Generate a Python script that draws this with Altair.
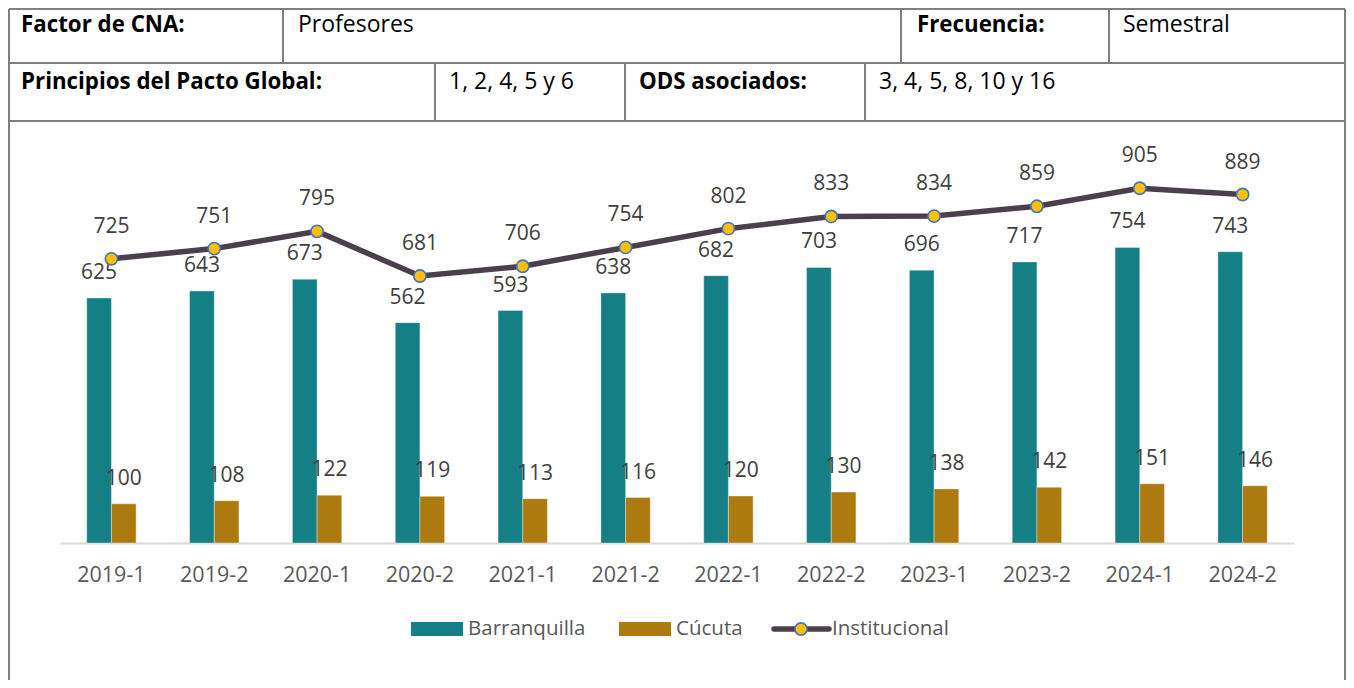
import altair as alt
import pandas as pd

# ---------------- data ----------------
periods = ["2019-1", "2019-2", "2020-1", "2020-2", "2021-1", "2021-2",
           "2022-1", "2022-2", "2023-1", "2023-2", "2024-1", "2024-2"]
barranquilla = [625, 643, 673, 562, 593, 638, 682, 703, 696, 717, 754, 743]
cucuta = [100, 108, 122, 119, 113, 116, 120, 130, 138, 142, 151, 146]
institucional = [725, 751, 795, 681, 706, 754, 802, 833, 834, 859, 905, 889]
series = ["Barranquilla", "Cúcuta"]

row1_labels = ["Factor de CNA:", "Profesores", "Frecuencia:", "Semestral"]
row2_labels = ["Principios del Pacto Global:", "1, 2, 4, 5 y 6", "ODS asociados:", "3, 4, 5, 8, 10 y 16"]
legend_labels = ["Barranquilla", "Cúcuta", "Institucional"]

# ---------------- styles / layout ----------------
FONT = "Open Sans"
C_BAQ = "#157F86"
C_CUC = "#AD7A10"
C_LINE = "#4B3F4E"
C_PT = "#FFC000"
C_PT_STROKE = "#4472C4"
C_BORDER = "#7F7F7F"

W, H = 1234, 392
PAD = {"left": 52, "top": 143, "right": 52, "bottom": 137}
PX0, PY0 = 8 + PAD["left"], 8 + PAD["top"]   # page position of plot origin


def px(v):
    return v - PX0


def py(v):
    return v - PY0


bars_df = pd.DataFrame({
    "Periodo": periods * 2,
    "Sede": [series[0]] * len(periods) + [series[1]] * len(periods),
    "Valor": barranquilla + cucuta,
})
line_df = pd.DataFrame({"Periodo": periods, "Valor": institucional})

x_enc = alt.X("Periodo:N", sort=periods, title=None,
              scale=alt.Scale(paddingInner=0.52, paddingOuter=0.26),
              axis=alt.Axis(labelAngle=0, ticks=False, tickSize=0, labelPadding=21,
                            labelFontSize=21.5, labelFont=FONT, labelColor="#595959",
                            domainColor="#D9D9D9", domainWidth=2, grid=False))
y_enc = alt.Y("Valor:Q", scale=alt.Scale(domain=[0, 1000]), axis=None)
xoff = alt.XOffset("Sede:N", sort=series, scale=alt.Scale(paddingInner=0, paddingOuter=0))
color = alt.Color("Sede:N", scale=alt.Scale(domain=series, range=[C_BAQ, C_CUC]), legend=None)

bars = alt.Chart(bars_df).mark_bar(stroke="#FFFFFF", strokeWidth=0.6, strokeOpacity=0.6).encode(
    x=x_enc, xOffset=xoff, y=y_enc, color=color)
bar_labels = alt.Chart(bars_df).mark_text(dy=-25, fontSize=21, font=FONT, color="#404040",
                                          baseline="middle").encode(
    x=alt.X("Periodo:N", sort=periods), xOffset=xoff, y="Valor:Q", text="Valor:Q")
line = alt.Chart(line_df).mark_line(color=C_LINE, strokeWidth=5.5).encode(
    x=alt.X("Periodo:N", sort=periods), y="Valor:Q")
points = alt.Chart(line_df).mark_point(filled=True, fill=C_PT, stroke=C_PT_STROKE, strokeWidth=1.6,
                                       size=150, opacity=1, shape="circle").encode(
    x=alt.X("Periodo:N", sort=periods), y="Valor:Q")
line_labels = alt.Chart(line_df).mark_text(dy=-32, fontSize=21, font=FONT, color="#404040",
                                           baseline="middle").encode(
    x=alt.X("Periodo:N", sort=periods), y="Valor:Q", text="Valor:Q")

main = alt.layer(bars, bar_labels, line, points, line_labels)

# ---------------- table frame ----------------
L, R, T, BOT = 9, 1345, 9, 680
ROW1, ROW2 = 63, 121
rules = [
    (L, R, T, T), (L, R, ROW1, ROW1), (L, R, ROW2, ROW2),
    (L, L, T, BOT), (R, R, T, BOT),
    (283, 283, T, ROW1), (901, 901, T, ROW1), (1109, 1109, T, ROW1),
    (435, 435, ROW1, ROW2), (625, 625, ROW1, ROW2), (865, 865, ROW1, ROW2),
]
rules_df = pd.DataFrame([{"x": px(a), "x2": px(b), "y": py(c), "y2": py(d)} for a, b, c, d in rules])
frame = alt.Chart(rules_df).mark_rule(color=C_BORDER, strokeWidth=2).encode(
    x=alt.X("x:Q", scale=None), x2="x2:Q", y=alt.Y("y:Q", scale=None), y2="y2:Q")

cell_x1 = [21, 298, 917, 1123]
cell_x2 = [21, 449, 639, 879]
bold_flags = [True, False, True, False]
cells = []
for lab, xx, b in zip(row1_labels, cell_x1, bold_flags):
    cells.append({"t": lab, "x": px(xx), "y": py(32), "b": b})
for lab, xx, b in zip(row2_labels, cell_x2, bold_flags):
    cells.append({"t": lab, "x": px(xx), "y": py(89), "b": b})
cells_df = pd.DataFrame(cells)
cell_bold = alt.Chart(cells_df[cells_df.b]).mark_text(
    align="left", baseline="alphabetic", fontSize=22.3, font=FONT, fontWeight="bold", color="#000000").encode(
    x=alt.X("x:Q", scale=None), y=alt.Y("y:Q", scale=None), text="t:N")
cell_norm = alt.Chart(cells_df[~cells_df.b]).mark_text(
    align="left", baseline="alphabetic", fontSize=23, font=FONT, color="#000000").encode(
    x=alt.X("x:Q", scale=None), y=alt.Y("y:Q", scale=None), text="t:N")

# ---------------- legend ----------------
LEG_Y = 629
sw_df = pd.DataFrame({"x": [px(411), px(619)], "x2": [px(463), px(671)],
                      "y": [py(LEG_Y - 7), py(LEG_Y - 7)], "y2": [py(LEG_Y + 7), py(LEG_Y + 7)],
                      "c": [C_BAQ, C_CUC]})
swatches = alt.Chart(sw_df).mark_rect().encode(
    x=alt.X("x:Q", scale=None), x2="x2:Q", y=alt.Y("y:Q", scale=None), y2="y2:Q",
    color=alt.Color("c:N", scale=None))
leg_line_df = pd.DataFrame({"x": [px(774)], "x2": [px(829)], "y": [py(LEG_Y)]})
leg_line = alt.Chart(leg_line_df).mark_rule(color=C_LINE, strokeWidth=5.5, strokeCap="round").encode(
    x=alt.X("x:Q", scale=None), x2="x2:Q", y=alt.Y("y:Q", scale=None))
leg_pt_df = pd.DataFrame({"x": [px(801)], "y": [py(LEG_Y)]})
leg_pt = alt.Chart(leg_pt_df).mark_point(filled=True, fill=C_PT, stroke=C_PT_STROKE, strokeWidth=1.6,
                                         size=150, opacity=1, shape="circle").encode(
    x=alt.X("x:Q", scale=None), y=alt.Y("y:Q", scale=None))
leg_txt_df = pd.DataFrame({"t": legend_labels, "x": [px(468), px(676), px(832)],
                           "y": [py(LEG_Y)] * 3})
leg_txt = alt.Chart(leg_txt_df).mark_text(align="left", baseline="middle", fontSize=20.5, font=FONT,
                                          color="#595959").encode(
    x=alt.X("x:Q", scale=None), y=alt.Y("y:Q", scale=None), text="t:N")

chart = alt.layer(
    main, frame, cell_bold, cell_norm, swatches, leg_line, leg_pt, leg_txt
).resolve_scale(x="independent", y="independent").properties(
    width=W, height=H, padding=PAD, autosize=alt.AutoSizeParams(type="none"), background="#FFFFFF"
).configure_view(stroke=None)

chart.save("out.html", embed_options={"renderer": "svg", "actions": False})
